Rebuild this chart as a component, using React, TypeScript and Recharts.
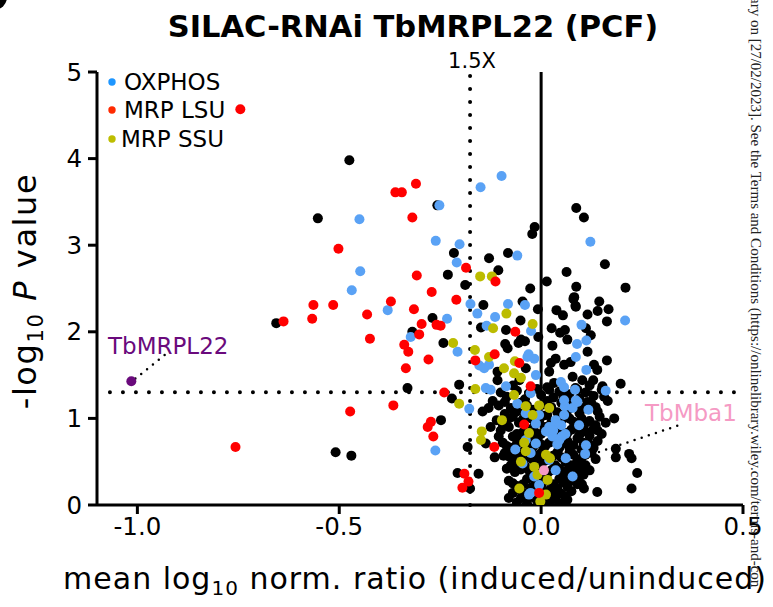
import React from "react";
import { ScatterChart, Scatter, XAxis, YAxis, ReferenceLine } from "recharts";

const FONT = "'DejaVu Sans', Verdana, sans-serif";

// [mean log10 ratio, -log10 P]
const otherProteins: [number, number][] = [
  [-0.475, 3.98], [-0.553, 3.31], [-0.257, 3.46], [0.087, 3.43], [0.106, 3.32], [-0.016, 3.21], [-0.022, 3.13],
  [-0.216, 2.91], [-0.129, 2.85], [-0.082, 2.91], [-0.231, 2.66], [-0.106, 2.71], [-0.188, 2.54], [-0.027, 2.5],
  [0.014, 2.58], [0.063, 2.69], [0.087, 2.52], [0.158, 2.78], [0.209, 2.51], [0.08, 2.38], [0.085, 2.3],
  [0.144, 2.35], [0.167, 2.26], [0.14, 2.24], [0.163, 2.12], [0.038, 2.25], [0.054, 2.19], [0.026, 2.04],
  [0.047, 1.99], [0.059, 2.02], [0.115, 2.2], [0.111, 2.04], [0.123, 1.96], [-0.143, 2.31], [-0.149, 2.05],
  [-0.269, 2.16], [-0.319, 2.0], [-0.242, 1.87], [-0.051, 2.13], [-0.087, 2.02], [-0.05, 1.91], [-0.083, 1.81],
  [-0.007, 1.94], [-0.008, 2.26], [-0.656, 2.1], [-0.509, 0.61], [-0.47, 0.57], [-0.331, 1.35], [-0.248, 0.98],
  [-0.203, 1.39], [-0.221, 1.23], [-0.145, 1.08], [-0.182, 0.67], [-0.137, 0.71], [-0.093, 0.57], [-0.207, 0.37],
  [-0.155, 0.36], [0.181, 1.0], [0.197, 1.4], [0.163, 1.67], [0.139, 1.56], [0.15, 1.33], [0.185, 0.65],
  [0.218, 0.59], [0.224, 0.54], [0.238, 0.37], [0.224, 0.19], [0.139, 0.15], [0.101, 0.24], [0.152, 1.37],
  [0.156, 1.25], [0.106, 0.19], [0.185, 0.55], [-0.176, 0.19], [-0.046, 2.35], [-0.04, 1.89], [-0.108, 1.54],
  [-0.108, 1.44], [-0.054, 1.44], [-0.038, 1.58], [0.082, 2.4], [0.086, 2.29], [0.115, 1.77], [0.028, 1.84],
  [0.065, 1.91], [0.036, 1.69], [0.057, 1.62], [0.024, 1.64], [0.073, 1.65], [0.078, 1.48], [0.02, 1.54],
  [0.032, 1.41], [0.131, 1.62], [0.129, 1.44], [0.102, 1.44], [0.02, 1.33], [0.09, 1.33], [-0.089, 1.86],
  [-0.056, 1.87],
  // dense cluster around zero
  [-0.1, 1.3], [-0.085, 1.25], [-0.06, 1.32], [-0.04, 1.22], [-0.01, 1.34], [0.0, 1.27], [0.03, 1.24],
  [0.045, 1.31], [0.07, 1.28], [0.095, 1.23], [0.11, 1.3], [0.13, 1.26], [-0.12, 1.2],
  [-0.105, 1.15], [-0.075, 1.12], [-0.05, 1.18], [-0.02, 1.1], [0.005, 1.16], [0.025, 1.13], [0.05, 1.18],
  [0.065, 1.09], [0.085, 1.15], [0.105, 1.12], [0.125, 1.17], [0.14, 1.08], [-0.09, 1.05],
  [-0.11, 0.98], [-0.07, 1.02], [-0.055, 0.95], [-0.025, 1.0], [-0.005, 0.97], [0.015, 1.04], [0.04, 0.99],
  [0.06, 1.03], [0.08, 0.96], [0.1, 1.0], [0.12, 0.97], [0.145, 1.02], [-0.04, 1.07],
  [-0.1, 0.86], [-0.08, 0.9], [-0.06, 0.82], [-0.035, 0.88], [-0.015, 0.84], [0.01, 0.9], [0.03, 0.81],
  [0.045, 0.87], [0.065, 0.83], [0.085, 0.9], [0.11, 0.85], [0.13, 0.88], [0.15, 0.82],
  [-0.095, 0.72], [-0.075, 0.66], [-0.05, 0.76], [-0.03, 0.7], [-0.01, 0.74], [0.01, 0.68], [0.03, 0.75],
  [0.055, 0.71], [0.07, 0.66], [0.09, 0.77], [0.12, 0.7], [0.14, 0.74], [0.1, 0.64],
  [-0.09, 0.6], [-0.07, 0.53], [-0.045, 0.58], [-0.02, 0.52], [0.0, 0.6], [0.02, 0.55], [0.04, 0.61],
  [0.06, 0.5], [0.08, 0.58], [0.1, 0.54], [0.125, 0.6], [-0.06, 0.47],
  [-0.085, 0.42], [-0.065, 0.38], [-0.04, 0.45], [-0.025, 0.36], [0.0, 0.48], [0.025, 0.4], [0.035, 0.46],
  [0.05, 0.35], [0.07, 0.43], [0.09, 0.38], [0.11, 0.46], [0.12, 0.4],
  [-0.08, 0.28], [-0.06, 0.22], [-0.035, 0.3], [-0.015, 0.25], [0.005, 0.32], [0.03, 0.24], [0.045, 0.3],
  [0.065, 0.21], [0.08, 0.28], [0.095, 0.33], [-0.05, 0.17],
  [-0.07, 0.14], [-0.05, 0.08], [-0.03, 0.15], [-0.01, 0.05], [0.005, 0.1], [0.02, 0.17], [0.035, 0.07],
  [0.05, 0.13], [0.065, 0.06], [0.075, 0.16], [-0.06, 0.03], [0.02, 0.02], [0.045, 0.02],
  [-0.125, 0.9], [-0.13, 1.12], [-0.115, 0.55], [0.165, 1.2], [0.16, 0.95],
  [-0.07, 1.38], [-0.03, 1.29], [0.015, 1.36], [0.055, 1.25], [0.085, 1.35], [0.12, 1.38],
  [-0.09, 1.19], [-0.06, 1.08], [-0.035, 1.15], [0.015, 1.2], [0.04, 1.07], [0.075, 1.2], [0.095, 1.06],
  [0.115, 1.19], [0.135, 1.13],
  [-0.095, 0.93], [-0.08, 1.0], [-0.045, 0.99], [-0.015, 0.93], [0.005, 1.03], [0.025, 0.95], [0.05, 0.97],
  [0.07, 1.0], [0.09, 0.93], [0.11, 0.95], [0.135, 0.92],
  [-0.105, 0.79], [-0.07, 0.79], [-0.045, 0.84], [-0.025, 0.79], [0.0, 0.82], [0.02, 0.86], [0.055, 0.78],
  [0.075, 0.87], [0.095, 0.81], [0.12, 0.8], [0.14, 0.86],
  [-0.085, 0.68], [-0.06, 0.71], [-0.04, 0.64], [-0.02, 0.67], [0.0, 0.7], [0.02, 0.72], [0.045, 0.66],
  [0.065, 0.74], [0.08, 0.69], [0.105, 0.72], [0.13, 0.66],
  [-0.08, 0.56], [-0.055, 0.6], [-0.03, 0.55], [-0.01, 0.57], [0.01, 0.51], [0.03, 0.57], [0.05, 0.55],
  [0.07, 0.6], [0.09, 0.51], [0.11, 0.58], [0.135, 0.53],
  [-0.075, 0.46], [-0.05, 0.41], [-0.03, 0.4], [-0.01, 0.43], [0.015, 0.36], [0.045, 0.42], [0.06, 0.39],
  [0.08, 0.46], [0.1, 0.42], [0.105, 0.35],
  [-0.07, 0.25], [-0.045, 0.24], [-0.025, 0.2], [0.0, 0.22], [0.015, 0.28], [0.04, 0.19], [0.055, 0.26],
  [0.07, 0.32], [0.09, 0.24], [-0.02, 0.32],
  [-0.08, 0.08], [-0.04, 0.11], [-0.02, 0.09], [0.01, 0.13], [0.03, 0.11], [0.06, 0.1], [-0.035, 0.02],
  [0.0, 0.01], [0.06, 0.03],
];

const oxphos: [number, number][] = [
  [-0.45, 3.3], [-0.261, 3.05], [-0.252, 3.46], [-0.098, 3.8], [-0.15, 3.67], [-0.202, 3.01], [-0.059, 2.88],
  [0.122, 3.04], [-0.209, 2.8], [-0.38, 2.25], [-0.233, 2.15], [-0.175, 2.32], [-0.158, 2.21], [-0.114, 2.17],
  [-0.135, 2.07], [-0.082, 2.32], [-0.04, 2.31], [-0.025, 2.01], [-0.323, 1.94], [0.208, 2.13], [0.1, 2.08],
  [0.089, 1.86], [0.112, 1.9], [-0.448, 2.7], [-0.469, 2.48], [0.086, 1.71], [0.112, 1.56], [0.16, 1.32],
  [0.084, 1.33], [0.09, 1.19], [0.117, 1.1], [0.059, 1.14], [0.057, 1.04], [0.094, 0.92], [0.111, 0.69],
  [0.109, 0.59], [0.078, 0.33], [0.049, 1.42], [0.051, 0.79], [-0.207, 1.77], [-0.153, 1.61], [-0.141, 1.58],
  [-0.178, 1.11], [-0.262, 0.63], [-0.137, 1.35], [-0.125, 1.33], [-0.087, 1.37], [-0.034, 1.71],
  [-0.017, 1.69], [-0.013, 1.5], [-0.026, 1.29], [-0.059, 1.17], [-0.038, 1.06], [0.057, 1.21], [0.078, 1.12],
  [0.02, 0.9], [0.036, 0.98], [-0.038, 0.75], [-0.046, 0.48], [-0.017, 0.33], [-0.005, 0.23], [-0.026, 0.14],
  [-0.064, 0.64], [-0.031, 1.74], [-0.129, 1.62], [0.057, 1.36], [0.036, 0.94], [0.028, 0.79], [0.045, 0.75],
  [-0.013, 0.71], [-0.026, 0.6], [0.02, 0.52], [0.036, 0.4], [-0.03, 0.12], [-0.013, 0.94], [-0.005, 1.04],
  [0.012, 0.85], [0.086, 1.21], [0.061, 0.54], [0.03, 0.86], [0.05, 0.92], [0.06, 0.82], [0.04, 0.7],
];

const mrpLsu: [number, number][] = [
  [-0.745, 4.57], [-0.31, 3.71], [-0.361, 3.61], [-0.345, 3.61], [-0.319, 3.32], [-0.502, 2.96], [-0.308, 2.65],
  [-0.271, 2.46], [-0.372, 2.35], [-0.315, 2.26], [-0.21, 2.37], [-0.186, 2.74], [-0.113, 2.58], [-0.296, 2.09],
  [-0.302, 1.97], [-0.259, 2.08], [-0.249, 2.07], [-0.339, 1.85], [-0.064, 2.0], [-0.638, 2.12], [-0.564, 2.31],
  [-0.567, 2.15], [-0.515, 2.31], [-0.431, 2.2], [-0.424, 1.92], [-0.473, 1.08], [-0.757, 0.67], [-0.329, 1.77],
  [-0.279, 1.68], [-0.335, 1.58], [-0.366, 1.15], [-0.24, 1.3], [-0.273, 0.96], [-0.281, 0.9], [-0.267, 0.79],
  [-0.116, 0.67], [-0.19, 0.36], [-0.18, 0.27], [-0.195, 0.2], [-0.163, 1.67], [-0.115, 1.74], [-0.026, 1.37],
  [-0.042, 0.93], [-0.005, 0.14], [-0.054, 1.64],
];

const mrpSsu: [number, number][] = [
  [-0.151, 2.64], [-0.122, 2.64], [-0.086, 2.21], [-0.119, 2.04], [-0.021, 2.09], [-0.218, 1.87], [-0.164, 1.79],
  [-0.129, 1.71], [-0.092, 1.58], [-0.065, 1.66], [-0.067, 1.52], [-0.05, 1.47], [-0.163, 1.34], [-0.067, 1.27],
  [-0.203, 1.17], [-0.038, 1.14], [-0.005, 1.15], [0.02, 1.12], [-0.021, 1.04], [-0.097, 0.98], [-0.147, 0.85],
  [-0.149, 0.75], [-0.03, 0.83], [-0.042, 0.72], [-0.038, 0.62], [0.012, 0.58], [0.022, 0.54], [-0.05, 0.5],
  [-0.017, 0.44], [-0.009, 0.35], [0.016, 0.29], [-0.054, 0.19], [0.012, 0.12], [-0.002, 0.04],
];

const tbMRPL22: [number, number][] = [[-1.015, 1.43]];
const tbMba1: [number, number][] = [[0.007, 0.4]];

const xTicks = [-1.0, -0.5, 0.0, 0.5];
const yTicks = [0, 1, 2, 3, 4, 5];
const foldCut = -0.176; // 1.5X
const pCut = 1.301; // p = 0.05

const rows = (pts: [number, number][]) => pts.map(([x, y]) => ({ x, y }));

const dot = (fill: string, r = 5) => (p: any) => <circle cx={p.cx} cy={p.cy} r={r} fill={fill} />;

const axisProps = {
  axisLine: { stroke: "#000", strokeWidth: 3 },
  tickLine: { stroke: "#000", strokeWidth: 3 },
  tick: { fill: "#000", fontSize: 24.5, fontFamily: FONT },
  tickSize: 9,
};

function Overlay() {
  return (
    <svg width={773} height={607} style={{ position: "absolute", left: 0, top: 0, pointerEvents: "none" }}>
      <circle cx={-6} cy={-3} r={13} fill="#000" />
      <text x={413} y={37} textAnchor="middle" fontFamily={FONT} fontWeight="bold" fontSize={30.5}>
        SILAC-RNAi TbMRPL22 (PCF)
      </text>
      <text x={472} y={68} textAnchor="middle" fontFamily={FONT} fontSize={21}>1.5X</text>
      {/* legend */}
      <circle cx={112} cy={82} r={3.7} fill="#1e96ff" />
      <text x={124} y={90} fontFamily={FONT} fontSize={23}>OXPHOS</text>
      <circle cx={112} cy={110} r={3.7} fill="#ff2a00" />
      <text x={124} y={118} fontFamily={FONT} fontSize={23}>MRP LSU</text>
      <circle cx={112} cy={139} r={3.7} fill="#bdbd00" />
      <text x={121} y={147} fontFamily={FONT} fontSize={23}>MRP SSU</text>
      {/* annotations */}
      <text x={108} y={354} fontFamily={FONT} fontSize={23} fill="#6a0a7c">TbMRPL22</text>
      <text x={645} y={421} fontFamily={FONT} fontSize={23} fill="#f59ac4">TbMba1</text>
      {/* axis titles */}
      <text
        transform="translate(36,291) rotate(-90)"
        textAnchor="middle"
        fontFamily={FONT}
        fontSize={32}
        letterSpacing={1.6}
      >
        -log<tspan fontSize={21} dy={7}>10</tspan>
        <tspan dy={-7}> </tspan>
        <tspan fontStyle="italic">P</tspan> value
      </text>
      <text x={415} y={589} textAnchor="middle" fontFamily={FONT} fontSize={30} letterSpacing={1}>
        mean log<tspan fontSize={20} dy={6}>10</tspan>
        <tspan dy={-6}> norm. ratio (induced/uninduced)</tspan>
      </text>
      {/* cropped page footer */}
      <text transform="translate(751,-3) rotate(90)" fontFamily="'Liberation Serif', serif" fontSize={15} fill="#222">
        ary on [27/02/2023]. See the Terms and Conditions (https://onlinelibrary.wiley.com/terms-and-con
      </text>
    </svg>
  );
}

export default function App() {
  return (
    <div style={{ position: "relative", width: 773, height: 607, background: "#fff" }}>
      <style>{"body{margin:0}"}</style>
      <ScatterChart width={773} height={607} margin={{ top: 72, right: 30, bottom: 0, left: 0 }}>
        <XAxis
          type="number"
          dataKey="x"
          domain={[-1.1, 0.5]}
          ticks={xTicks}
          tickFormatter={(v: number) => v.toFixed(1)}
          allowDataOverflow
          height={102}
          tickMargin={4}
          {...axisProps}
        />
        <YAxis
          type="number"
          dataKey="y"
          domain={[0, 5]}
          ticks={yTicks}
          allowDataOverflow
          width={97}
          tickMargin={6}
          {...axisProps}
        />
        <ReferenceLine x={0} stroke="#000" strokeWidth={3} />
        <ReferenceLine
          x={foldCut}
          stroke="#000"
          strokeWidth={4}
          strokeDasharray="0 13"
          strokeLinecap="round"
        />
        <ReferenceLine
          segment={[{ x: -1.068, y: pCut }, { x: 0.5, y: pCut }]}
          stroke="#000"
          strokeWidth={4}
          strokeDasharray="0 13"
          strokeLinecap="round"
        />
        <ReferenceLine
          segment={[{ x: -1.005, y: 1.46 }, { x: -0.93, y: 1.74 }]}
          stroke="#000"
          strokeWidth={2.5}
          strokeDasharray="0 7.5"
          strokeLinecap="round"
        />
        <ReferenceLine
          segment={[{ x: 0.02, y: 0.42 }, { x: 0.354, y: 0.94 }]}
          stroke="#000"
          strokeWidth={2.5}
          strokeDasharray="0 7.5"
          strokeLinecap="round"
        />
        <Scatter data={rows(otherProteins)} shape={dot("#000")} isAnimationActive={false} />
        <Scatter data={rows(oxphos)} shape={dot("#5aa2f5")} isAnimationActive={false} />
        <Scatter data={rows(mrpSsu)} shape={dot("#bcbc00")} isAnimationActive={false} />
        <Scatter data={rows(mrpLsu)} shape={dot("#ff0000")} isAnimationActive={false} />
        <Scatter data={rows(tbMba1)} shape={dot("#f59ac4")} isAnimationActive={false} />
        <Scatter data={rows(tbMRPL22)} shape={dot("#6a0a7c")} isAnimationActive={false} />
      </ScatterChart>
      <Overlay />
    </div>
  );
}
